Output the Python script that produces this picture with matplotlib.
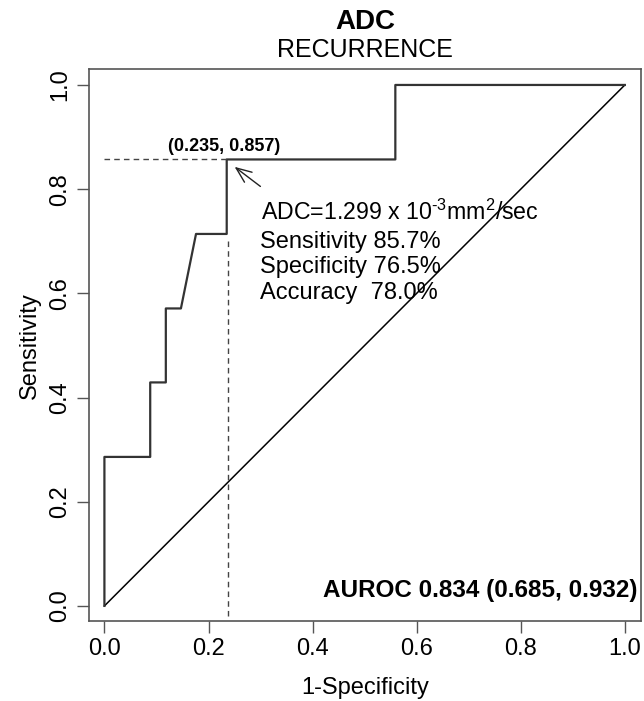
import numpy as np
import matplotlib
matplotlib.use("Agg")
import matplotlib.pyplot as plt

plt.rcParams['font.family'] = ['Liberation Sans', 'DejaVu Sans']
plt.rcParams['mathtext.fontset'] = 'custom'
plt.rcParams['mathtext.rm'] = 'Liberation Sans'
plt.rcParams['mathtext.it'] = 'Liberation Sans'

# ROC curve
fpr = [0.0, 0.0, 0.088, 0.088, 0.118, 0.118, 0.147, 0.176, 0.235, 0.235, 0.559, 0.559, 1.0]
tpr = [0.0, 0.286, 0.286, 0.429, 0.429, 0.571, 0.571, 0.714, 0.714, 0.857, 0.857, 1.0, 1.0]

cut_x = 0.235
cut_y = 0.857
ticks = [0.0, 0.2, 0.4, 0.6, 0.8, 1.0]
tick_labels = ['0.0', '0.2', '0.4', '0.6', '0.8', '1.0']

info_lines = [r'ADC=1.299 x 10$^{\text{-}3}$mm$^{2}$/sec',
              'Sensitivity 85.7%',
              'Specificity 76.5%',
              'Accuracy  78.0%']
auroc_text = 'AUROC 0.834 (0.685, 0.932)'

fig = plt.figure(figsize=(6.44, 7.01), dpi=100)
ax = fig.add_axes([0.1387, 0.1141, 0.8566, 0.787])

ax.plot([0, 1], [0, 1], '-', color='black', linewidth=1.1)
ax.plot(fpr, tpr, '-', color='#333333', linewidth=1.6)

# cutoff guides
ax.plot([0, cut_x], [cut_y, cut_y], '--', color='#444444', linewidth=1.0, dashes=(4, 3))
ax.plot([cut_x + 0.003, cut_x + 0.003], [-0.02, 0.705], '--', color='#444444', linewidth=1.0, dashes=(4, 3))

ax.text(0.23, 0.881, '(%.3f, %.3f)' % (cut_x, cut_y), fontsize=13, fontweight='bold',
        ha='center', va='center')
ax.annotate('', xy=(0.246, 0.846), xytext=(0.304, 0.802),
            arrowprops=dict(arrowstyle='->,head_length=1.1,head_width=0.45', color='#222222', lw=1.0))

ys = [0.756, 0.699, 0.651, 0.601]
sizes = [16.7, 17, 17, 17]
for i, s in enumerate(info_lines):
    ax.text(0.301 if i == 0 else 0.299, ys[i], s, fontsize=sizes[i], ha='left', va='center')

ax.text(1.024, 0.029, auroc_text, fontsize=17.5, fontweight='bold', ha='right', va='center')

ax.set_xlim(-0.029, 1.031)
ax.set_ylim(-0.029, 1.03)
ax.set_xticks(ticks)
ax.set_xticklabels(tick_labels)
ax.set_yticks(ticks)
ax.set_yticklabels(tick_labels, rotation=90, va='center')
ax.tick_params(axis='both', direction='out', length=8.5, width=1.0, color='#555555',
               labelsize=17, top=False, right=False)
ax.tick_params(axis='x', pad=4.0)
ax.tick_params(axis='y', pad=4.5)
for sp in ax.spines.values():
    sp.set_color('#555555')
    sp.set_linewidth(1.2)

ax.set_xlabel('1-Specificity', fontsize=17)
ax.set_ylabel('Sensitivity', fontsize=17)
ax.xaxis.set_label_coords(0.5, -0.121)
ax.xaxis.label.set_va('center')
ax.yaxis.set_label_coords(-0.108, 0.5)
ax.yaxis.label.set_va('center')

cx = 0.1387 + 0.8566 / 2
fig.text(cx, 1 - 22 / 701, 'ADC', fontsize=20, fontweight='bold', ha='center', va='center')
fig.text(cx, 1 - 50 / 701, 'RECURRENCE', fontsize=18, ha='center', va='center')

fig.savefig('out.png', dpi=100)
